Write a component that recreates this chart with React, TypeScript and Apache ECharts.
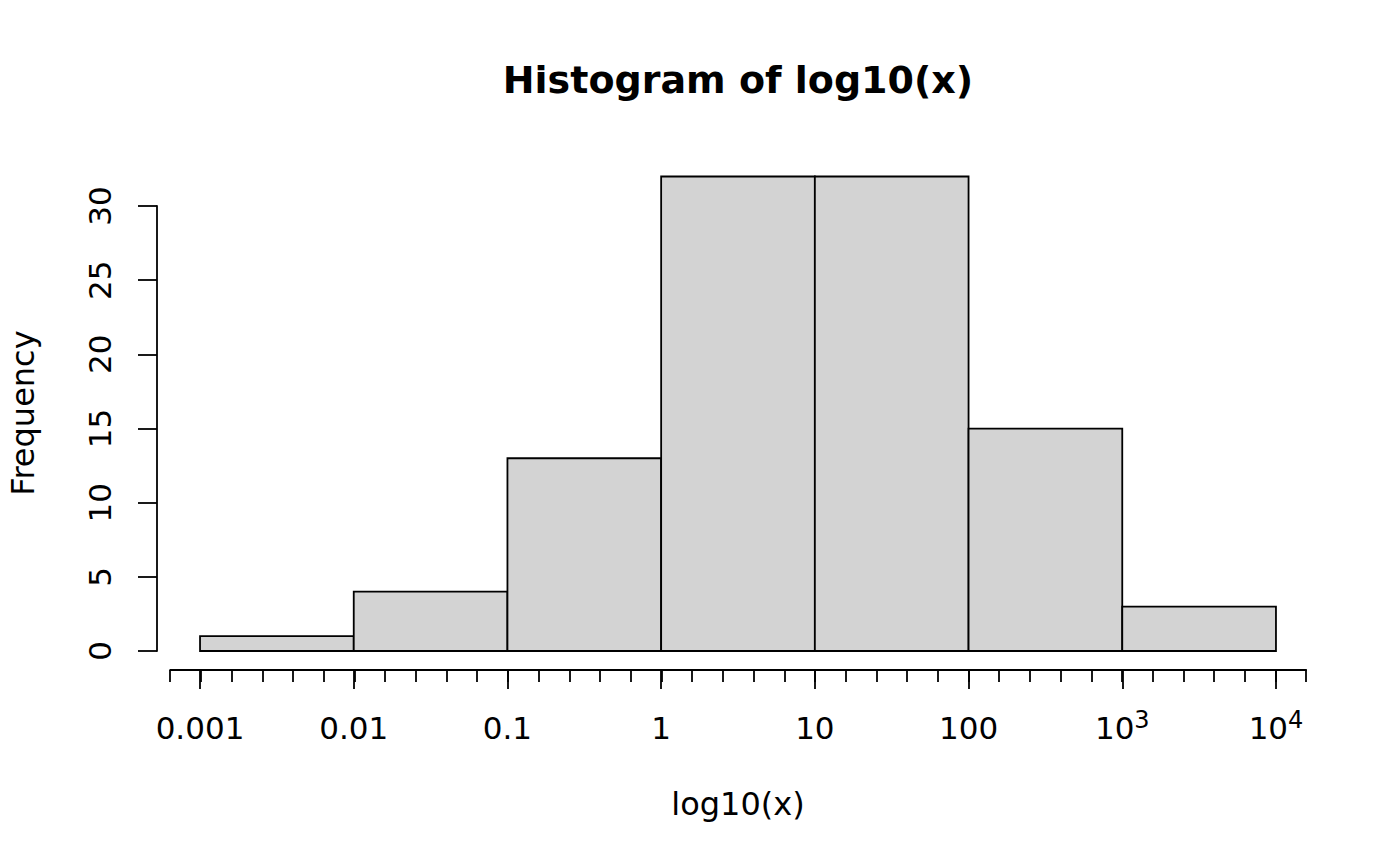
import React, { useEffect, useRef } from "react";
import * as echarts from "echarts";

// Histogram bins (in log10 units) and their counts
const binStarts = [-3, -2, -1, 0, 1, 2, 3];
const binEnds = [-2, -1, 0, 1, 2, 3, 4];
const counts = [1, 4, 13, 32, 32, 15, 3];

// Major tick labels for exponents -3..4
const xTickExponents = [-3, -2, -1, 0, 1, 2, 3, 4];
const xTickLabels = ["0.001", "0.01", "0.1", "1", "10", "100", "10{sup|3}", "10{sup|4}"];
const yTicks = [0, 5, 10, 15, 20, 25, 30];

const FONT = "DejaVu Sans";
const FS = 31;
const TFS = 32;

export default function App() {
  const ref = useRef<HTMLDivElement>(null);
  useEffect(() => {
    if (!ref.current) return;
    const chart = echarts.init(ref.current, null, { renderer: "svg" });
    const black = "#000000";
    const lw = 1.8;
    const option: any = {
      animation: false,
      backgroundColor: "#ffffff",
      grid: [
        { left: 157, right: 81, top: 157.5, bottom: 196 },
        { left: 170.2, right: 93.8, top: 157.5, bottom: 196 },
        { left: 200, right: 124, top: 157.5, bottom: 196 },
        { left: 157, right: 81, top: 206, bottom: 215 },
      ],
      xAxis: [
        { gridIndex: 0, type: "value", min: -3.28, max: 4.28, show: false },
        {
          gridIndex: 1, type: "value", min: -3.2, max: 4.2, interval: 0.2,
          axisLine: { show: true, onZero: false, lineStyle: { color: black, width: lw } },
          axisTick: { show: true, length: 12, lineStyle: { color: black, width: lw } },
          axisLabel: { show: false },
          splitLine: { show: false },
        },
        {
          gridIndex: 2, type: "value", min: xTickExponents[0], max: xTickExponents[xTickExponents.length - 1], interval: 1,
          axisLine: { show: false, onZero: false },
          axisTick: { show: true, length: 19, lineStyle: { color: black, width: lw } },
          axisLabel: {
            show: true, showMinLabel: true, showMaxLabel: true,
            margin: 37.6, color: black, fontFamily: FONT, fontSize: FS, lineHeight: 40,
            formatter: (v: number) => {
              const i = xTickExponents.indexOf(Math.round(v));
              return i >= 0 ? xTickLabels[i] : "";
            },
            rich: {
              sup: { fontFamily: FONT, fontSize: 24, lineHeight: 24, verticalAlign: "top", color: black },
            },
          },
          splitLine: { show: false },
        },
        { gridIndex: 3, type: "value", min: 0, max: 1, show: false },
      ],
      yAxis: [
        { gridIndex: 0, type: "value", min: -1.28, max: 33.28, show: false },
        { gridIndex: 1, type: "value", min: 0, max: 1, show: false },
        { gridIndex: 2, type: "value", min: 0, max: 1, show: false },
        {
          gridIndex: 3, type: "value", min: yTicks[0], max: yTicks[yTicks.length - 1], interval: 5,
          axisLine: { show: true, onZero: false, lineStyle: { color: black, width: lw } },
          axisTick: { show: true, length: 19, lineStyle: { color: black, width: lw } },
          axisLabel: {
            show: true, rotate: 90, margin: 42, color: black, fontFamily: FONT, fontSize: FS, lineHeight: 31,
            showMinLabel: true, showMaxLabel: true,
          },
          splitLine: { show: false },
        },
      ],
      series: [
        {
          type: "custom",
          xAxisIndex: 0,
          yAxisIndex: 0,
          data: binStarts.map((s, i) => [s, binEnds[i], counts[i]]),
          encode: { x: [0, 1], y: 2 },
          renderItem: (params: any, api: any) => {
            const p0 = api.coord([api.value(0), 0]);
            const p1 = api.coord([api.value(1), api.value(2)]);
            return {
              type: "rect",
              shape: { x: p0[0], y: p1[1], width: p1[0] - p0[0], height: p0[1] - p1[1] },
              style: { fill: "#D3D3D3", stroke: black, lineWidth: lw },
            };
          },
        },
      ],
      graphic: [
        {
          type: "text", x: 738, y: 80,
          style: {
            text: "Histogram of log10(x)", fill: black,
            font: `bold 38px "${FONT}"`, fontFamily: FONT, fontSize: 38, fontWeight: "bold",
            align: "center", verticalAlign: "middle", textAlign: "center", textVerticalAlign: "middle",
          },
        },
        {
          type: "text", x: 738, y: 804,
          style: {
            text: "log10(x)", fill: black,
            font: `${TFS}px "${FONT}"`, fontFamily: FONT, fontSize: TFS,
            align: "center", verticalAlign: "middle", textAlign: "center", textVerticalAlign: "middle",
          },
        },
        {
          type: "text", x: 23, y: 413, rotation: Math.PI / 2,
          style: {
            text: "Frequency", fill: black,
            font: `${TFS}px "${FONT}"`, fontFamily: FONT, fontSize: TFS,
            align: "center", verticalAlign: "middle", textAlign: "center", textVerticalAlign: "middle",
          },
        },
      ],
    };
    chart.setOption(option);
    return () => chart.dispose();
  }, []);
  return (
    <div
      ref={ref}
      style={{ position: "fixed", left: 0, top: 0, width: 1400, height: 866, background: "#fff" }}
    />
  );
}
